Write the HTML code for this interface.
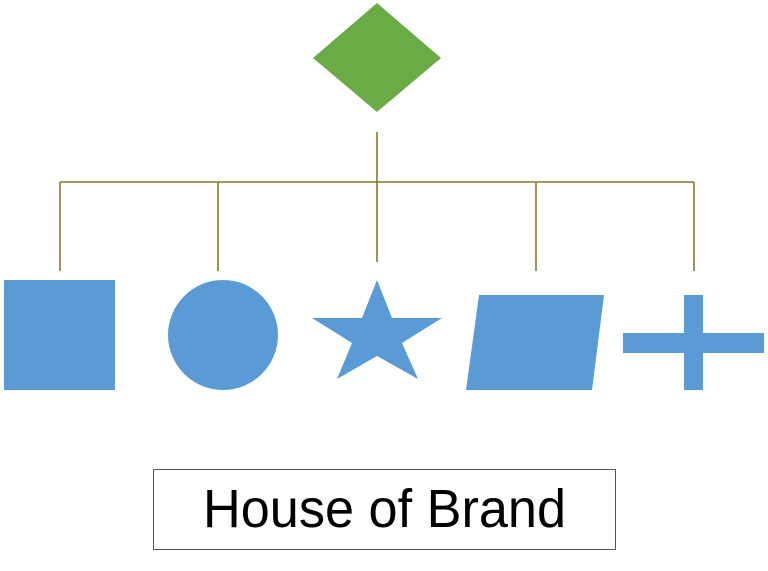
<!DOCTYPE html>
<html><head><meta charset="utf-8"><style>
html,body{margin:0;padding:0;background:#fff;width:768px;height:571px;overflow:hidden}
</style></head><body>
<svg width="768" height="571" viewBox="0 0 768 571" xmlns="http://www.w3.org/2000/svg">
<polygon points="377,3 441,58 377,112 313,58" fill="#6aab46"/>
<g stroke="#857a2e" stroke-width="1.6" fill="none">
<line x1="377" y1="132" x2="377" y2="262"/>
<line x1="60" y1="182" x2="694" y2="182"/>
<line x1="60" y1="182" x2="60" y2="271"/>
<line x1="218" y1="182" x2="218" y2="271"/>
<line x1="536" y1="182" x2="536" y2="271"/>
<line x1="694" y1="182" x2="694" y2="271"/>
</g>
<g fill="#5b9bd5">
<rect x="4" y="280" width="111" height="110"/>
<ellipse cx="223" cy="335" rx="55" ry="55"/>
<polygon points="377,280 392,318 442,318 402,343 418,379 377,356 337,379 352,343 312,318 362,318"/>
<polygon points="479,295 604,295 592,390 466,390"/>
<rect x="684" y="295" width="19" height="95"/>
<rect x="623" y="333" width="141" height="20"/>
</g>
<rect x="153.5" y="469.5" width="462" height="80" fill="#fff" stroke="#555" stroke-width="1"/>
<text x="203" y="527" textLength="363" lengthAdjust="spacingAndGlyphs" font-family="Liberation Sans, sans-serif" font-size="54" fill="#000">House of Brand</text>
</svg>
</body></html>
